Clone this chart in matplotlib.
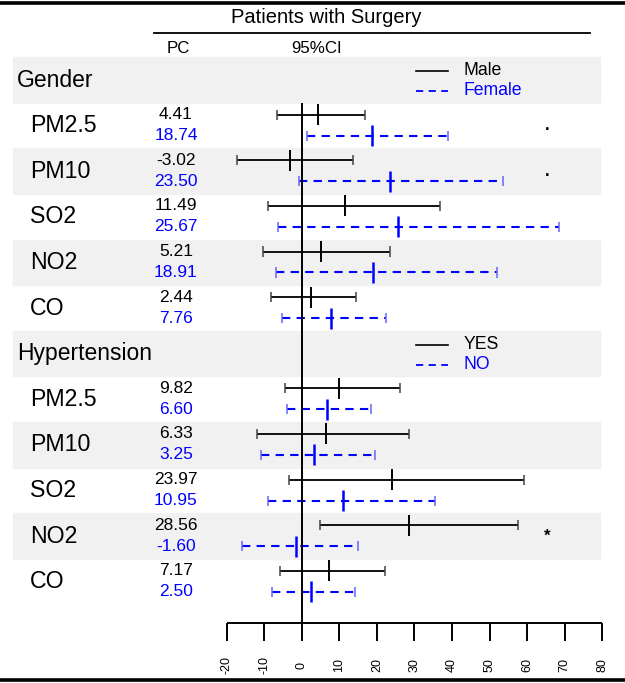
import matplotlib.pyplot as plt

plt.rcParams['font.family'] = ['Liberation Sans', 'DejaVu Sans']

# values
pollutants = ["PM2.5", "PM10", "SO2", "NO2", "CO"]

male_pc = [4.41, -3.02, 11.49, 5.21, 2.44]
male_lo = [-6.7, -17.2, -8.9, -10.3, -8.2]
male_hi = [16.9, 13.5, 36.7, 23.6, 14.3]
female_pc = [18.74, 23.50, 25.67, 18.91, 7.76]
female_lo = [1.5, -0.7, -6.3, -7.0, -5.2]
female_hi = [38.8, 53.5, 68.6, 51.9, 22.4]

yes_pc = [9.82, 6.33, 23.97, 28.56, 7.17]
yes_lo = [-4.4, -12.0, -3.4, 4.85, -5.9]
yes_hi = [26.1, 28.5, 59.1, 57.6, 22.1]
no_pc = [6.60, 3.25, 10.95, -1.60, 2.50]
no_lo = [-4.0, -10.9, -9.1, -15.8, -8.0]
no_hi = [18.5, 19.5, 35.5, 15.0, 14.1]

sig_gender = [".", ".", "", "", ""]
sig_hyp = ["", "", "", "*", ""]

groups = [
    ("Gender", ("Male", "Female"), (male_pc, male_lo, male_hi), (female_pc, female_lo, female_hi), sig_gender),
    ("Hypertension", ("YES", "NO"), (yes_pc, yes_lo, yes_hi), (no_pc, no_lo, no_hi), sig_hyp),
]
ticks = [-20, -10, 0, 10, 20, 30, 40, 50, 60, 70, 80]

BLUE = "#0000ff"
GRAY = "#f1f1f1"

fig = plt.figure(figsize=(6.25, 6.83), dpi=100)
ax = fig.add_axes([0, 0, 1, 1])
ax.axis("off")
# x in percent-change units, y in row units (row 0 = "Gender")
ax.set_xlim(-80.35, 86.05)
ax.set_ylim(13.22, -1.754)

x_lab = -72.4
x_grp = -75.8
x_pc = -33.5
x_sig = 65.3
axis_y = 11.91

# header
ax.plot([-90, 100], [-1.69, -1.69], color="black", lw=2.6, clip_on=False)
ax.plot([-90, 100], [13.16, 13.16], color="black", lw=2.6, clip_on=False)
ax.text(6.4, -1.36, "Patients with Surgery", ha="center", va="center", fontsize=14.5)
ax.plot([-39.3, 76.7], [-1.03, -1.03], color="black", lw=1.3)
ax.text(x_pc + 0.5, -0.70, "PC", ha="center", va="center", fontsize=12.2)
ax.text(3.8, -0.70, "95%CI", ha="center", va="center", fontsize=12.2)

row = 0
for name, legend_names, s1, s2, sig in groups:
    # group header row with legend
    ax.axhspan(row - 0.5, row + 0.5, xmin=0.021, xmax=0.96, color=GRAY, zorder=0)
    ax.text(x_grp, row, name, ha="left", va="center", fontsize=16.5)
    ax.plot([30.4, 38.9], [row - 0.2, row - 0.2], color="black", lw=1.2)
    ax.plot([30.4, 38.9], [row + 0.24, row + 0.24], color=BLUE, lw=1.3, ls=(0, (4, 3)))
    ax.text(43, row - 0.2, legend_names[0], ha="left", va="center", fontsize=12.7)
    ax.text(43, row + 0.24, legend_names[1], ha="left", va="center", fontsize=12.7, color=BLUE)
    row += 1
    for i, pol in enumerate(pollutants):
        if (row % 2) == 0:
            ax.axhspan(row - 0.5, row + 0.5, xmin=0.021, xmax=0.96, color=GRAY, zorder=0)
        ax.text(x_lab, row, pol, ha="left", va="center", fontsize=16.7)
        y1 = row - 0.24
        y2 = row + 0.22
        ax.text(x_pc, y1, f"{s1[0][i]:.2f}", ha="center", va="center", fontsize=12.5)
        ax.text(x_pc, y2, f"{s2[0][i]:.2f}", ha="center", va="center", fontsize=12.5, color=BLUE)
        # first series: solid black
        ax.hlines(y1, s1[1][i], s1[2][i], color="black", lw=1.3, zorder=3)
        ax.vlines([s1[1][i], s1[2][i]], y1 - 0.11, y1 + 0.11, color="#444444", lw=1.1, zorder=3)
        ax.vlines(s1[0][i], y1 - 0.23, y1 + 0.23, color="black", lw=1.4, zorder=3)
        # second series: dashed blue
        ax.hlines(y2, s2[1][i], s2[2][i], color=BLUE, lw=1.5, linestyles=[(0, (4, 3))], zorder=3)
        ax.vlines([s2[1][i], s2[2][i]], y2 - 0.11, y2 + 0.11, color="#6666ff", lw=1.1, zorder=3)
        ax.vlines(s2[0][i], y2 - 0.23, y2 + 0.23, color=BLUE, lw=1.8, zorder=3)
        if sig[i]:
            ax.text(x_sig, row, sig[i], ha="center", va="center", fontsize=12, fontweight="bold")
        row += 1

# zero reference line and bottom axis
ax.vlines(0, 0.5, axis_y, color="black", lw=1.4, zorder=4)
ax.hlines(axis_y, ticks[0], ticks[-1], color="black", lw=1.4)
ax.vlines(ticks, axis_y, axis_y + 0.38, color="black", lw=1.4)
for t in ticks:
    ax.text(t, 12.83, str(t), rotation=90, ha="center", va="center", fontsize=9)

fig.savefig("out.png", dpi=100)
